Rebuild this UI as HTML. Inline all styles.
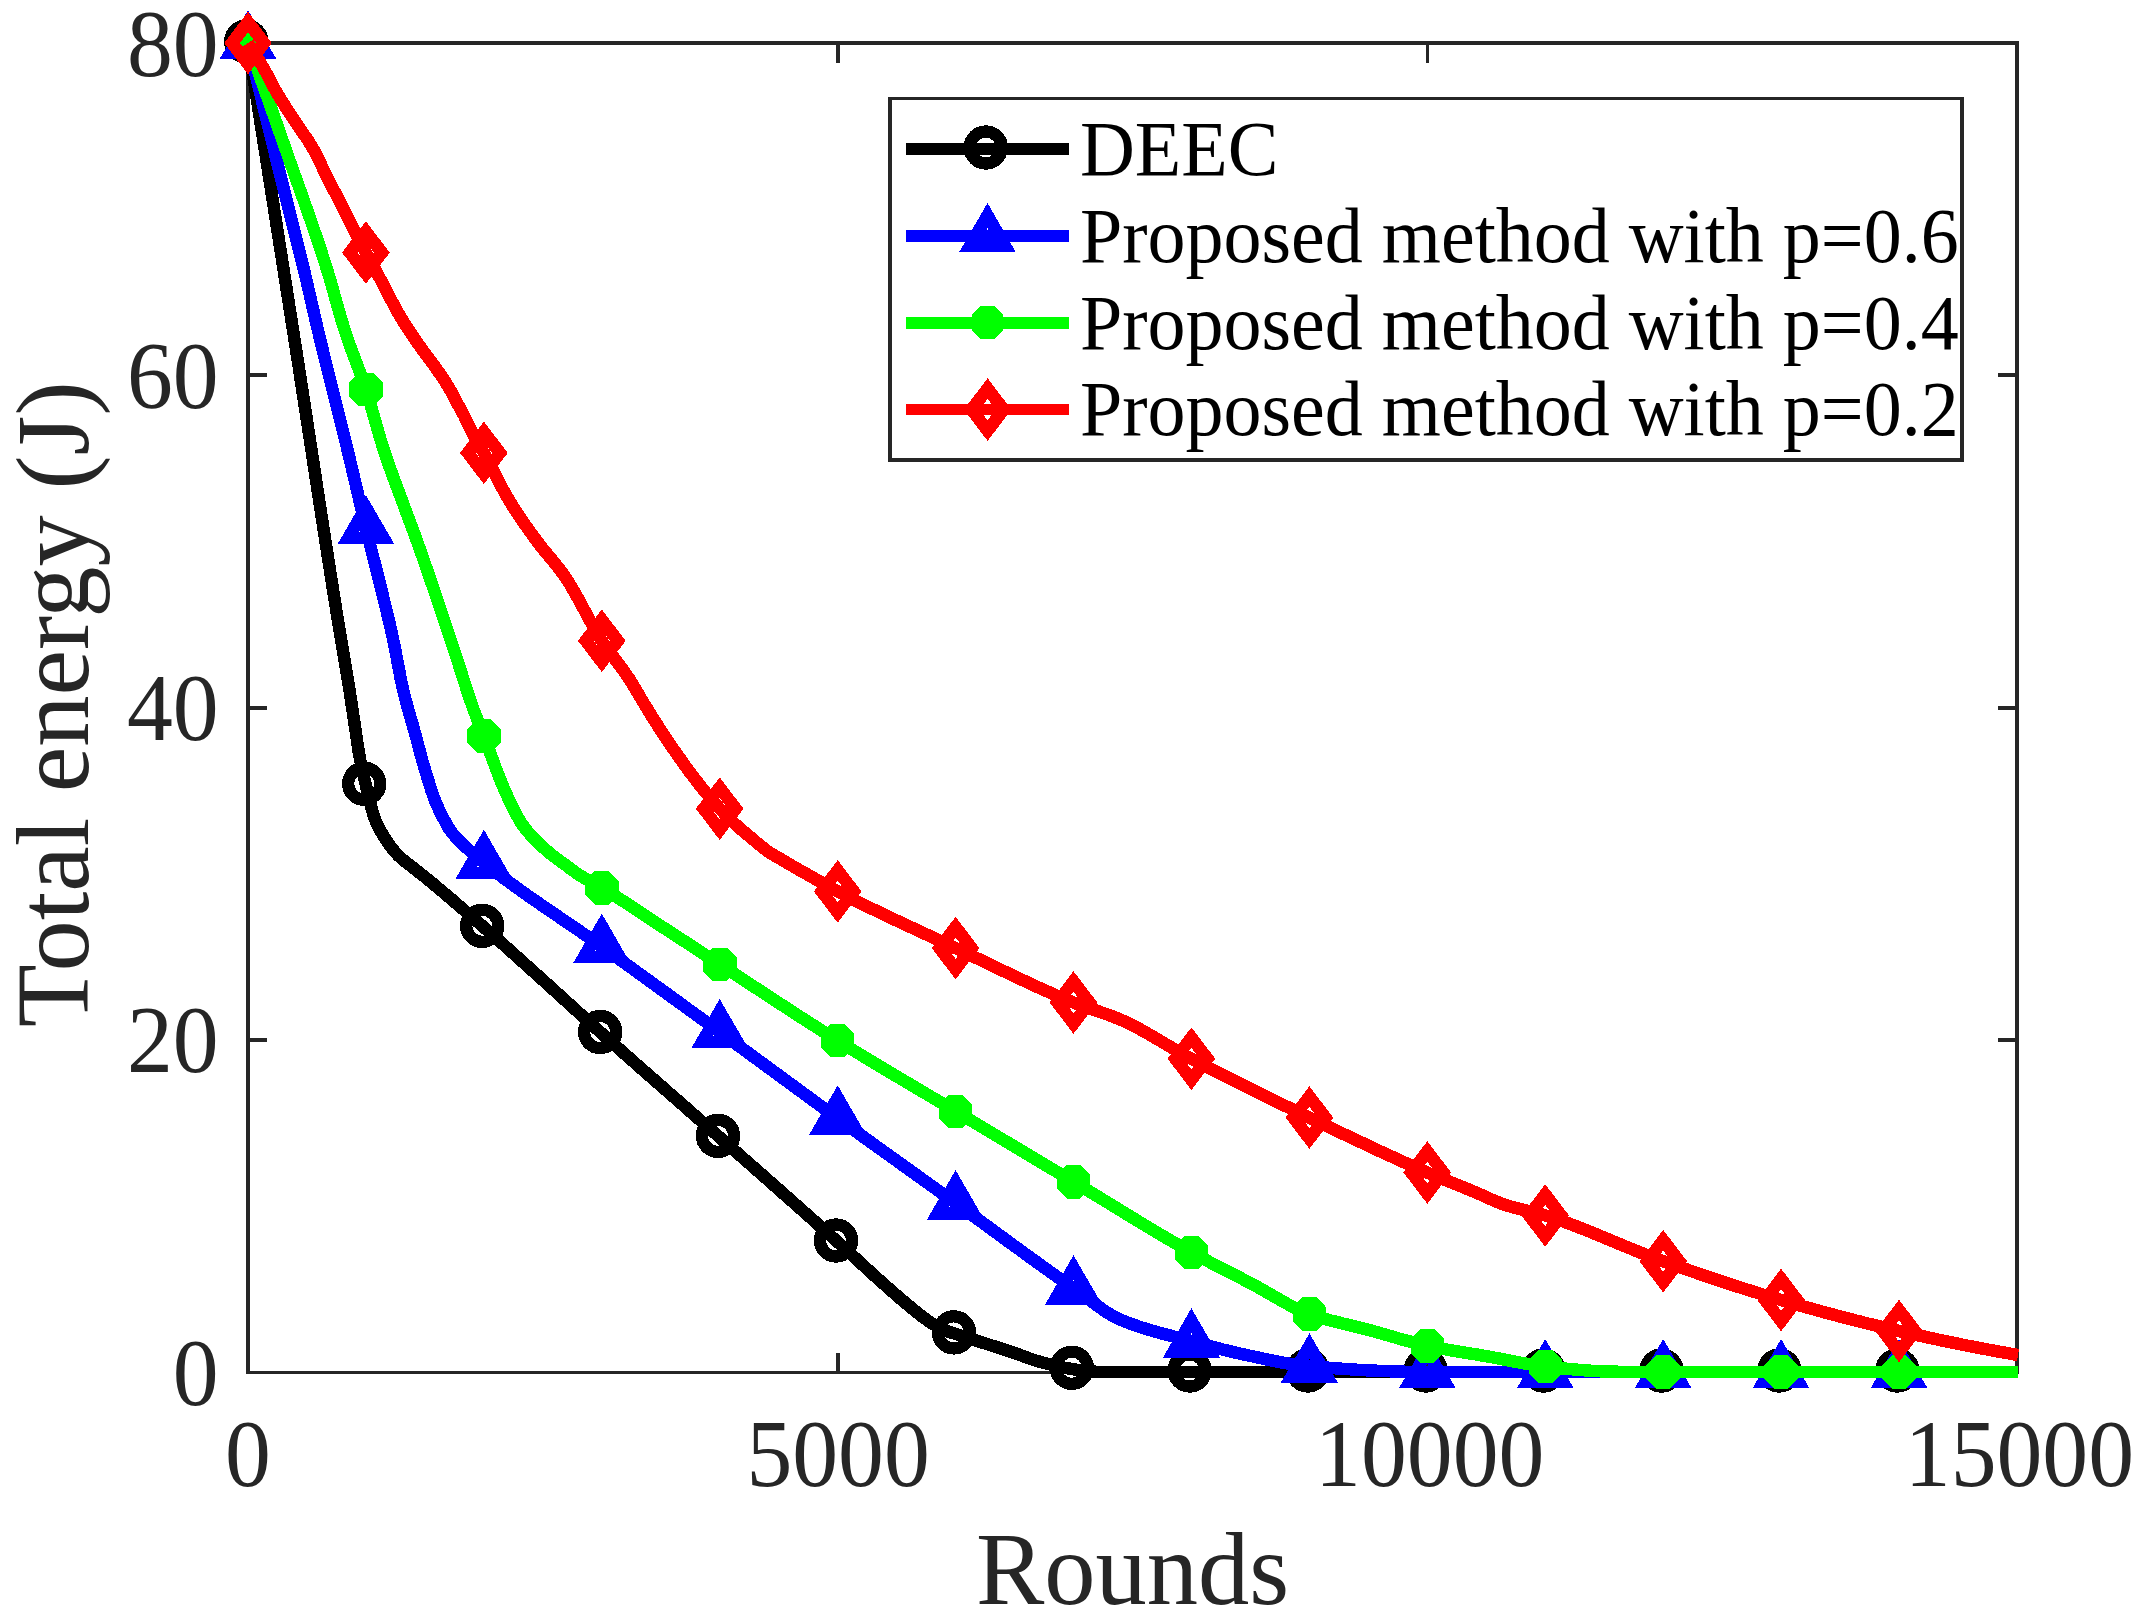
<!DOCTYPE html>
<html><head><meta charset="utf-8"><title>Total energy vs Rounds</title>
<style>
html,body{margin:0;padding:0;background:#fff;}
svg{display:block;}
text{font-family:"Liberation Serif",serif;}
.tk{font-size:91.7px;fill:#262626;}
.lb{font-size:102.5px;fill:#262626;}
.lg{font-size:76px;fill:#000;}
.ln{fill:none;stroke-width:12.5;stroke-linejoin:round;stroke-linecap:butt;}
</style></head><body>
<svg width="2144" height="1621" viewBox="0 0 2144 1621">
<rect width="2144" height="1621" fill="#fff"/>

<g fill="#262626" shape-rendering="crispEdges">
<rect x="246" y="41" width="4" height="1333"/>
<rect x="2015" y="41" width="4" height="1333"/>
<rect x="246" y="41" width="1773" height="4"/>
<rect x="246" y="1371" width="1773" height="3"/>
<rect x="836" y="1353" width="4" height="18"/>
<rect x="836" y="45" width="4" height="18"/>
<rect x="1426" y="1353" width="3" height="18"/>
<rect x="1426" y="45" width="3" height="18"/>
<rect x="250" y="373" width="17" height="4"/>
<rect x="1998" y="373" width="17" height="4"/>
<rect x="250" y="706" width="17" height="4"/>
<rect x="1998" y="706" width="17" height="4"/>
<rect x="250" y="1038" width="17" height="4"/>
<rect x="1998" y="1038" width="17" height="4"/>
</g>
<text class="tk" transform="translate(248.0,1486.3) scale(1,1.03)" text-anchor="middle">0</text>
<text class="tk" transform="translate(838.1,1486.3) scale(1,1.03)" text-anchor="middle">5000</text>
<text class="tk" transform="translate(1429.7,1486.3) scale(1,1.03)" text-anchor="middle">10000</text>
<text class="tk" transform="translate(2019.4,1486.3) scale(1,1.03)" text-anchor="middle">15000</text>
<text class="tk" transform="translate(218.7,1404.6) scale(1,1.03)" text-anchor="end">0</text>
<text class="tk" transform="translate(218.7,1072.3) scale(1,1.03)" text-anchor="end">20</text>
<text class="tk" transform="translate(218.7,740.1) scale(1,1.03)" text-anchor="end">40</text>
<text class="tk" transform="translate(218.7,407.9) scale(1,1.03)" text-anchor="end">60</text>
<text class="tk" transform="translate(218.7,75.6) scale(1,1.03)" text-anchor="end">80</text>
<text class="lb" transform="translate(1132.6,1603.5) scale(1,1.01)" text-anchor="middle">Rounds</text>
<text class="lb" transform="translate(87.8,704.2) rotate(-90) scale(1,1.01)" text-anchor="middle">Total energy (J)</text>
<defs><clipPath id="cp"><rect x="208.0" y="3.0" width="1811.05" height="1409.0"/></clipPath></defs>
<g clip-path="url(#cp)" shape-rendering="crispEdges">
<path class="ln" stroke="#000" d="M248.0,43.0 L251.0,62.0 L254.0,81.1 L257.0,100.1 L260.0,119.2 L263.0,138.3 L266.0,157.4 L269.0,176.5 L272.0,195.6 L275.0,214.8 L278.0,233.9 L281.0,253.1 L284.0,272.3 L287.0,291.5 L290.0,310.7 L293.0,329.9 L296.0,349.2 L299.0,368.5 L302.0,388.1 L305.0,407.6 L308.0,427.3 L311.0,446.9 L314.0,466.6 L317.0,486.3 L320.0,505.8 L323.0,525.4 L326.0,544.8 L329.0,564.1 L332.0,583.2 L335.0,602.1 L338.0,620.9 L341.0,639.4 L344.0,657.2 L347.0,674.7 L350.0,693.2 L353.0,713.3 L356.0,733.6 L359.0,753.7 L362.0,769.4 L365.0,781.4 L368.0,794.1 L371.0,806.2 L374.0,816.9 L377.0,824.2 L380.0,829.9 L383.0,835.1 L386.0,839.9 L389.0,844.3 L392.0,848.3 L395.0,851.9 L398.0,855.2 L401.0,858.1 L404.0,860.7 L407.0,863.0 L410.0,865.2 L413.0,867.6 L416.0,870.0 L419.0,872.3 L422.0,874.7 L425.0,877.1 L428.0,879.6 L431.0,882.0 L434.0,884.5 L437.0,887.0 L440.0,889.6 L443.0,892.1 L446.0,894.6 L449.0,897.2 L452.0,899.7 L455.0,902.3 L458.0,904.9 L461.0,907.4 L464.0,910.0 L467.0,912.6 L470.0,915.2 L473.0,917.8 L476.0,920.4 L479.0,923.0 L482.0,925.7 L485.0,928.3 L488.0,930.9 L491.0,933.6 L494.0,936.2 L497.0,938.9 L500.0,941.6 L503.0,944.2 L506.0,946.9 L509.0,949.6 L512.0,952.3 L515.0,955.0 L518.0,957.7 L521.0,960.4 L524.0,963.1 L527.0,965.8 L530.0,968.5 L533.0,971.2 L536.0,973.9 L539.0,976.6 L542.0,979.3 L545.0,982.0 L548.0,984.7 L551.0,987.4 L554.0,990.2 L557.0,992.9 L560.0,995.6 L563.0,998.4 L566.0,1001.1 L569.0,1003.8 L572.0,1006.5 L575.0,1009.3 L578.0,1012.0 L581.0,1014.7 L584.0,1017.5 L587.0,1020.2 L590.0,1022.9 L593.0,1025.6 L596.0,1028.3 L599.0,1031.0 L602.0,1033.7 L605.0,1036.4 L608.0,1039.0 L611.0,1041.7 L614.0,1044.4 L617.0,1047.1 L620.0,1049.7 L623.0,1052.4 L626.0,1055.0 L629.0,1057.7 L632.0,1060.3 L635.0,1063.0 L638.0,1065.6 L641.0,1068.3 L644.0,1070.9 L647.0,1073.5 L650.0,1076.2 L653.0,1078.8 L656.0,1081.4 L659.0,1084.1 L662.0,1086.7 L665.0,1089.3 L668.0,1092.0 L671.0,1094.6 L674.0,1097.2 L677.0,1099.8 L680.0,1102.5 L683.0,1105.1 L686.0,1107.7 L689.0,1110.4 L692.0,1113.0 L695.0,1115.6 L698.0,1118.3 L701.0,1120.9 L704.0,1123.5 L707.0,1126.2 L710.0,1128.8 L713.0,1131.5 L716.0,1134.1 L719.0,1136.8 L722.0,1139.4 L725.0,1142.1 L728.0,1144.7 L731.0,1147.4 L734.0,1150.0 L737.0,1152.7 L740.0,1155.3 L743.0,1158.0 L746.0,1160.6 L749.0,1163.2 L752.0,1165.9 L755.0,1168.5 L758.0,1171.2 L761.0,1173.8 L764.0,1176.5 L767.0,1179.1 L770.0,1181.8 L773.0,1184.4 L776.0,1187.1 L779.0,1189.7 L782.0,1192.4 L785.0,1195.0 L788.0,1197.7 L791.0,1200.3 L794.0,1203.0 L797.0,1205.7 L800.0,1208.3 L803.0,1211.0 L806.0,1213.7 L809.0,1216.3 L812.0,1219.0 L815.0,1221.7 L818.0,1224.4 L821.0,1227.0 L824.0,1229.7 L827.0,1232.4 L830.0,1235.1 L833.0,1237.8 L836.0,1240.5 L839.0,1243.2 L842.0,1245.9 L845.0,1248.7 L848.0,1251.4 L851.0,1254.2 L854.0,1256.9 L857.0,1259.7 L860.0,1262.5 L863.0,1265.2 L866.0,1268.0 L869.0,1270.7 L872.0,1273.4 L875.0,1276.2 L878.0,1278.9 L881.0,1281.5 L884.0,1284.2 L887.0,1286.9 L890.0,1289.6 L893.0,1292.2 L896.0,1294.8 L899.0,1297.4 L902.0,1300.0 L905.0,1302.5 L908.0,1305.0 L911.0,1307.5 L914.0,1310.0 L917.0,1312.4 L920.0,1314.8 L923.0,1317.1 L926.0,1319.3 L929.0,1321.4 L932.0,1323.4 L935.0,1325.2 L938.0,1327.0 L941.0,1328.6 L944.0,1329.9 L947.0,1331.1 L950.0,1332.1 L953.0,1333.1 L956.0,1334.0 L959.0,1335.1 L962.0,1336.0 L965.0,1337.0 L968.0,1338.0 L971.0,1339.0 L974.0,1339.9 L977.0,1340.9 L980.0,1341.8 L983.0,1342.8 L986.0,1343.7 L989.0,1344.7 L992.0,1345.6 L995.0,1346.6 L998.0,1347.5 L1001.0,1348.5 L1004.0,1349.5 L1007.0,1350.5 L1010.0,1351.5 L1013.0,1352.5 L1016.0,1353.5 L1019.0,1354.6 L1022.0,1355.7 L1025.0,1356.8 L1028.0,1357.9 L1031.0,1359.0 L1034.0,1360.0 L1037.0,1360.9 L1040.0,1361.8 L1043.0,1362.6 L1046.0,1363.4 L1049.0,1364.2 L1052.0,1364.9 L1055.0,1365.6 L1058.0,1366.3 L1061.0,1366.9 L1064.0,1367.6 L1067.0,1368.2 L1070.0,1368.7 L1073.0,1369.2 L1076.0,1369.7 L1079.0,1370.2 L1082.0,1370.7 L1085.0,1371.1 L1088.0,1371.4 L1091.0,1371.5 L1094.0,1371.7 L1097.0,1371.8 L1100.0,1371.9 L1103.0,1371.9 L1106.0,1372.0 L1109.0,1372.0 L1112.0,1372.0 L1115.0,1372.0 L1118.0,1372.0 L1121.0,1372.0 L1124.0,1372.0 L1127.0,1372.0 L1130.0,1372.0 L1133.0,1372.0 L1136.0,1372.0 L1139.0,1372.0 L1142.0,1372.0 L1145.0,1372.0 L1148.0,1372.0 L1151.0,1372.0 L1154.0,1372.0 L1157.0,1372.0 L1160.0,1372.0 L1163.0,1372.0 L1166.0,1372.0 L1169.0,1372.0 L1172.0,1372.0 L1175.0,1372.0 L1178.0,1372.0 L1181.0,1372.0 L1184.0,1372.0 L1187.0,1372.0 L1190.0,1372.0 L1193.0,1372.0 L1196.0,1372.0 L1199.0,1372.0 L1202.0,1372.0 L1205.0,1372.0 L1208.0,1372.0 L1211.0,1372.0 L1214.0,1372.0 L1217.0,1372.0 L1220.0,1372.0 L1223.0,1372.0 L1226.0,1372.0 L1229.0,1372.0 L1232.0,1372.0 L1235.0,1372.0 L1238.0,1372.0 L1241.0,1372.0 L1244.0,1372.0 L1247.0,1372.0 L1250.0,1372.0 L1253.0,1372.0 L1256.0,1372.0 L1259.0,1372.0 L1262.0,1372.0 L1265.0,1372.0 L1268.0,1372.0 L1271.0,1372.0 L1274.0,1372.0 L1277.0,1372.0 L1280.0,1372.0 L1283.0,1372.0 L1286.0,1372.0 L1289.0,1372.0 L1292.0,1372.0 L1295.0,1372.0 L1298.0,1372.0 L1301.0,1372.0 L1304.0,1372.0 L1307.0,1372.0 L1310.0,1372.0 L1313.0,1372.0 L1316.0,1372.0 L1319.0,1372.0 L1322.0,1372.0 L1325.0,1372.0 L1328.0,1372.0 L1331.0,1372.0 L1334.0,1372.0 L1337.0,1372.0 L1340.0,1372.0 L1343.0,1372.0 L1346.0,1372.0 L1349.0,1372.0 L1352.0,1372.0 L1355.0,1372.0 L1358.0,1372.0 L1361.0,1372.0 L1364.0,1372.0 L1367.0,1372.0 L1370.0,1372.0 L1373.0,1372.0 L1376.0,1372.0 L1379.0,1372.0 L1382.0,1372.0 L1385.0,1372.0 L1388.0,1372.0 L1391.0,1372.0 L1394.0,1372.0 L1397.0,1372.0 L1400.0,1372.0 L1403.0,1372.0 L1406.0,1372.0 L1409.0,1372.0 L1412.0,1372.0 L1415.0,1372.0 L1418.0,1372.0 L1421.0,1372.0 L1424.0,1372.0 L1427.0,1372.0 L1430.0,1372.0 L1433.0,1372.0 L1436.0,1372.0 L1439.0,1372.0 L1442.0,1372.0 L1445.0,1372.0 L1448.0,1372.0 L1451.0,1372.0 L1454.0,1372.0 L1457.0,1372.0 L1460.0,1372.0 L1463.0,1372.0 L1466.0,1372.0 L1469.0,1372.0 L1472.0,1372.0 L1475.0,1372.0 L1478.0,1372.0 L1481.0,1372.0 L1484.0,1372.0 L1487.0,1372.0 L1490.0,1372.0 L1493.0,1372.0 L1496.0,1372.0 L1499.0,1372.0 L1502.0,1372.0 L1505.0,1372.0 L1508.0,1372.0 L1511.0,1372.0 L1514.0,1372.0 L1517.0,1372.0 L1520.0,1372.0 L1523.0,1372.0 L1526.0,1372.0 L1529.0,1372.0 L1532.0,1372.0 L1535.0,1372.0 L1538.0,1372.0 L1541.0,1372.0 L1544.0,1372.0 L1547.0,1372.0 L1550.0,1372.0 L1553.0,1372.0 L1556.0,1372.0 L1559.0,1372.0 L1562.0,1372.0 L1565.0,1372.0 L1568.0,1372.0 L1571.0,1372.0 L1574.0,1372.0 L1577.0,1372.0 L1580.0,1372.0 L1583.0,1372.0 L1586.0,1372.0 L1589.0,1372.0 L1592.0,1372.0 L1595.0,1372.0 L1598.0,1372.0 L1601.0,1372.0 L1604.0,1372.0 L1607.0,1372.0 L1610.0,1372.0 L1613.0,1372.0 L1616.0,1372.0 L1619.0,1372.0 L1622.0,1372.0 L1625.0,1372.0 L1628.0,1372.0 L1631.0,1372.0 L1634.0,1372.0 L1637.0,1372.0 L1640.0,1372.0 L1643.0,1372.0 L1646.0,1372.0 L1649.0,1372.0 L1652.0,1372.0 L1655.0,1372.0 L1658.0,1372.0 L1661.0,1372.0 L1664.0,1372.0 L1667.0,1372.0 L1670.0,1372.0 L1673.0,1372.0 L1676.0,1372.0 L1679.0,1372.0 L1682.0,1372.0 L1685.0,1372.0 L1688.0,1372.0 L1691.0,1372.0 L1694.0,1372.0 L1697.0,1372.0 L1700.0,1372.0 L1703.0,1372.0 L1706.0,1372.0 L1709.0,1372.0 L1712.0,1372.0 L1715.0,1372.0 L1718.0,1372.0 L1721.0,1372.0 L1724.0,1372.0 L1727.0,1372.0 L1730.0,1372.0 L1733.0,1372.0 L1736.0,1372.0 L1739.0,1372.0 L1742.0,1372.0 L1745.0,1372.0 L1748.0,1372.0 L1751.0,1372.0 L1754.0,1372.0 L1757.0,1372.0 L1760.0,1372.0 L1763.0,1372.0 L1766.0,1372.0 L1769.0,1372.0 L1772.0,1372.0 L1775.0,1372.0 L1778.0,1372.0 L1781.0,1372.0 L1784.0,1372.0 L1787.0,1372.0 L1790.0,1372.0 L1793.0,1372.0 L1796.0,1372.0 L1799.0,1372.0 L1802.0,1372.0 L1805.0,1372.0 L1808.0,1372.0 L1811.0,1372.0 L1814.0,1372.0 L1817.0,1372.0 L1820.0,1372.0 L1823.0,1372.0 L1826.0,1372.0 L1829.0,1372.0 L1832.0,1372.0 L1835.0,1372.0 L1838.0,1372.0 L1841.0,1372.0 L1844.0,1372.0 L1847.0,1372.0 L1850.0,1372.0 L1853.0,1372.0 L1856.0,1372.0 L1859.0,1372.0 L1862.0,1372.0 L1865.0,1372.0 L1868.0,1372.0 L1871.0,1372.0 L1874.0,1372.0 L1877.0,1372.0 L1880.0,1372.0 L1883.0,1372.0 L1886.0,1372.0 L1889.0,1372.0 L1892.0,1372.0 L1895.0,1372.0 L1898.0,1372.0 L1901.0,1372.0 L1904.0,1372.0 L1907.0,1372.0 L1910.0,1372.0 L1913.0,1372.0 L1916.0,1372.0 L1919.0,1372.0 L1922.0,1372.0 L1925.0,1372.0 L1928.0,1372.0 L1931.0,1372.0 L1934.0,1372.0 L1937.0,1372.0 L1940.0,1372.0 L1943.0,1372.0 L1946.0,1372.0 L1949.0,1372.0 L1952.0,1372.0 L1955.0,1372.0 L1958.0,1372.0 L1961.0,1372.0 L1964.0,1372.0 L1967.0,1372.0 L1970.0,1372.0 L1973.0,1372.0 L1976.0,1372.0 L1979.0,1372.0 L1982.0,1372.0 L1985.0,1372.0 L1988.0,1372.0 L1991.0,1372.0 L1994.0,1372.0 L1997.0,1372.0 L2000.0,1372.0 L2003.0,1372.0 L2006.0,1372.0 L2009.0,1372.0 L2012.0,1372.0 L2015.0,1372.0 L2018.0,1372.0"/>
<circle cx="246.3" cy="41.5" r="16.1" fill="none" stroke="#000" stroke-width="12.2"/>
<circle cx="364.2" cy="783.7" r="16.1" fill="none" stroke="#000" stroke-width="12.2"/>
<circle cx="482.2" cy="925.8" r="16.1" fill="none" stroke="#000" stroke-width="12.2"/>
<circle cx="600.1" cy="1032.0" r="16.1" fill="none" stroke="#000" stroke-width="12.2"/>
<circle cx="718.0" cy="1135.9" r="16.1" fill="none" stroke="#000" stroke-width="12.2"/>
<circle cx="836.0" cy="1240.5" r="16.1" fill="none" stroke="#000" stroke-width="12.2"/>
<circle cx="953.9" cy="1332.4" r="16.1" fill="none" stroke="#000" stroke-width="12.2"/>
<circle cx="1071.8" cy="1367.8" r="16.1" fill="none" stroke="#000" stroke-width="12.2"/>
<circle cx="1189.7" cy="1370.5" r="16.1" fill="none" stroke="#000" stroke-width="12.2"/>
<circle cx="1307.7" cy="1370.5" r="16.1" fill="none" stroke="#000" stroke-width="12.2"/>
<circle cx="1425.6" cy="1370.5" r="16.1" fill="none" stroke="#000" stroke-width="12.2"/>
<circle cx="1543.5" cy="1370.5" r="16.1" fill="none" stroke="#000" stroke-width="12.2"/>
<circle cx="1661.5" cy="1370.5" r="16.1" fill="none" stroke="#000" stroke-width="12.2"/>
<circle cx="1779.4" cy="1370.5" r="16.1" fill="none" stroke="#000" stroke-width="12.2"/>
<circle cx="1897.3" cy="1370.5" r="16.1" fill="none" stroke="#000" stroke-width="12.2"/>
<path class="ln" stroke="#00f" d="M248.0,43.0 L251.0,55.4 L254.0,67.8 L257.0,80.2 L260.0,92.5 L263.0,104.8 L266.0,117.0 L269.0,129.3 L272.0,141.5 L275.0,153.7 L278.0,165.8 L281.0,177.9 L284.0,189.9 L287.0,202.0 L290.0,214.0 L293.0,225.9 L296.0,237.7 L299.0,249.7 L302.0,261.8 L305.0,274.2 L308.0,287.1 L311.0,300.2 L314.0,313.4 L317.0,326.3 L320.0,338.9 L323.0,351.2 L326.0,363.4 L329.0,375.5 L332.0,387.6 L335.0,399.6 L338.0,411.6 L341.0,423.5 L344.0,435.4 L347.0,447.6 L350.0,460.2 L353.0,472.9 L356.0,485.7 L359.0,498.6 L362.0,511.4 L365.0,524.1 L368.0,536.4 L371.0,548.4 L374.0,560.2 L377.0,572.0 L380.0,584.0 L383.0,596.2 L386.0,608.5 L389.0,621.0 L392.0,634.1 L395.0,648.4 L398.0,664.4 L401.0,680.2 L404.0,693.5 L407.0,705.1 L410.0,715.6 L413.0,725.9 L416.0,736.6 L419.0,748.3 L422.0,759.5 L425.0,769.6 L428.0,779.6 L431.0,789.2 L434.0,798.1 L437.0,805.3 L440.0,811.6 L443.0,817.6 L446.0,823.2 L449.0,828.5 L452.0,832.7 L455.0,836.2 L458.0,839.5 L461.0,842.5 L464.0,845.4 L467.0,848.2 L470.0,850.9 L473.0,853.6 L476.0,856.2 L479.0,858.7 L482.0,861.2 L485.0,863.6 L488.0,866.0 L491.0,868.4 L494.0,870.7 L497.0,873.0 L500.0,875.3 L503.0,877.6 L506.0,879.8 L509.0,882.0 L512.0,884.2 L515.0,886.4 L518.0,888.6 L521.0,890.7 L524.0,892.8 L527.0,895.0 L530.0,897.1 L533.0,899.1 L536.0,901.2 L539.0,903.3 L542.0,905.4 L545.0,907.4 L548.0,909.5 L551.0,911.5 L554.0,913.6 L557.0,915.6 L560.0,917.7 L563.0,919.7 L566.0,921.7 L569.0,923.8 L572.0,925.8 L575.0,927.9 L578.0,929.9 L581.0,932.0 L584.0,934.1 L587.0,936.2 L590.0,938.3 L593.0,940.4 L596.0,942.5 L599.0,944.6 L602.0,946.8 L605.0,948.9 L608.0,951.1 L611.0,953.2 L614.0,955.4 L617.0,957.5 L620.0,959.7 L623.0,961.9 L626.0,964.0 L629.0,966.2 L632.0,968.3 L635.0,970.5 L638.0,972.7 L641.0,974.8 L644.0,977.0 L647.0,979.2 L650.0,981.4 L653.0,983.5 L656.0,985.7 L659.0,987.9 L662.0,990.1 L665.0,992.2 L668.0,994.4 L671.0,996.6 L674.0,998.8 L677.0,1000.9 L680.0,1003.1 L683.0,1005.3 L686.0,1007.5 L689.0,1009.7 L692.0,1011.8 L695.0,1014.0 L698.0,1016.2 L701.0,1018.4 L704.0,1020.6 L707.0,1022.7 L710.0,1024.9 L713.0,1027.1 L716.0,1029.3 L719.0,1031.5 L722.0,1033.7 L725.0,1035.8 L728.0,1038.0 L731.0,1040.2 L734.0,1042.4 L737.0,1044.6 L740.0,1046.8 L743.0,1049.0 L746.0,1051.2 L749.0,1053.4 L752.0,1055.6 L755.0,1057.8 L758.0,1060.0 L761.0,1062.2 L764.0,1064.4 L767.0,1066.6 L770.0,1068.8 L773.0,1071.0 L776.0,1073.2 L779.0,1075.4 L782.0,1077.6 L785.0,1079.8 L788.0,1082.0 L791.0,1084.2 L794.0,1086.4 L797.0,1088.6 L800.0,1090.8 L803.0,1093.0 L806.0,1095.2 L809.0,1097.4 L812.0,1099.6 L815.0,1101.8 L818.0,1104.0 L821.0,1106.2 L824.0,1108.4 L827.0,1110.6 L830.0,1112.7 L833.0,1114.9 L836.0,1117.1 L839.0,1119.3 L842.0,1121.5 L845.0,1123.6 L848.0,1125.8 L851.0,1128.0 L854.0,1130.1 L857.0,1132.3 L860.0,1134.5 L863.0,1136.6 L866.0,1138.8 L869.0,1140.9 L872.0,1143.1 L875.0,1145.3 L878.0,1147.4 L881.0,1149.6 L884.0,1151.7 L887.0,1153.9 L890.0,1156.0 L893.0,1158.2 L896.0,1160.3 L899.0,1162.5 L902.0,1164.6 L905.0,1166.8 L908.0,1168.9 L911.0,1171.1 L914.0,1173.2 L917.0,1175.4 L920.0,1177.5 L923.0,1179.7 L926.0,1181.8 L929.0,1184.0 L932.0,1186.1 L935.0,1188.3 L938.0,1190.5 L941.0,1192.6 L944.0,1194.8 L947.0,1196.9 L950.0,1199.1 L953.0,1201.2 L956.0,1203.4 L959.0,1205.6 L962.0,1207.7 L965.0,1209.9 L968.0,1212.1 L971.0,1214.3 L974.0,1216.5 L977.0,1218.6 L980.0,1220.8 L983.0,1223.0 L986.0,1225.2 L989.0,1227.4 L992.0,1229.6 L995.0,1231.8 L998.0,1234.0 L1001.0,1236.2 L1004.0,1238.4 L1007.0,1240.6 L1010.0,1242.8 L1013.0,1245.0 L1016.0,1247.2 L1019.0,1249.3 L1022.0,1251.5 L1025.0,1253.7 L1028.0,1255.9 L1031.0,1258.1 L1034.0,1260.2 L1037.0,1262.4 L1040.0,1264.6 L1043.0,1266.7 L1046.0,1268.9 L1049.0,1271.0 L1052.0,1273.1 L1055.0,1275.3 L1058.0,1277.4 L1061.0,1279.5 L1064.0,1281.6 L1067.0,1283.7 L1070.0,1285.8 L1073.0,1287.8 L1076.0,1289.9 L1079.0,1292.1 L1082.0,1294.3 L1085.0,1296.5 L1088.0,1298.8 L1091.0,1301.0 L1094.0,1303.2 L1097.0,1305.4 L1100.0,1307.6 L1103.0,1309.7 L1106.0,1311.7 L1109.0,1313.6 L1112.0,1315.4 L1115.0,1317.0 L1118.0,1318.5 L1121.0,1319.9 L1124.0,1321.1 L1127.0,1322.3 L1130.0,1323.5 L1133.0,1324.6 L1136.0,1325.6 L1139.0,1326.7 L1142.0,1327.6 L1145.0,1328.6 L1148.0,1329.5 L1151.0,1330.4 L1154.0,1331.3 L1157.0,1332.1 L1160.0,1332.9 L1163.0,1333.7 L1166.0,1334.5 L1169.0,1335.3 L1172.0,1336.1 L1175.0,1336.9 L1178.0,1337.6 L1181.0,1338.4 L1184.0,1339.2 L1187.0,1340.0 L1190.0,1340.8 L1193.0,1341.6 L1196.0,1342.4 L1199.0,1343.3 L1202.0,1344.1 L1205.0,1344.9 L1208.0,1345.7 L1211.0,1346.5 L1214.0,1347.3 L1217.0,1348.1 L1220.0,1348.8 L1223.0,1349.6 L1226.0,1350.3 L1229.0,1351.1 L1232.0,1351.8 L1235.0,1352.5 L1238.0,1353.2 L1241.0,1353.9 L1244.0,1354.5 L1247.0,1355.2 L1250.0,1355.8 L1253.0,1356.4 L1256.0,1357.1 L1259.0,1357.7 L1262.0,1358.4 L1265.0,1359.0 L1268.0,1359.7 L1271.0,1360.3 L1274.0,1360.9 L1277.0,1361.5 L1280.0,1362.1 L1283.0,1362.7 L1286.0,1363.2 L1289.0,1363.7 L1292.0,1364.2 L1295.0,1364.6 L1298.0,1365.1 L1301.0,1365.4 L1304.0,1365.8 L1307.0,1366.1 L1310.0,1366.4 L1313.0,1366.6 L1316.0,1366.8 L1319.0,1367.1 L1322.0,1367.3 L1325.0,1367.5 L1328.0,1367.7 L1331.0,1368.0 L1334.0,1368.2 L1337.0,1368.4 L1340.0,1368.6 L1343.0,1368.8 L1346.0,1369.0 L1349.0,1369.2 L1352.0,1369.4 L1355.0,1369.6 L1358.0,1369.8 L1361.0,1369.9 L1364.0,1370.1 L1367.0,1370.3 L1370.0,1370.4 L1373.0,1370.6 L1376.0,1370.7 L1379.0,1370.9 L1382.0,1371.0 L1385.0,1371.1 L1388.0,1371.2 L1391.0,1371.3 L1394.0,1371.4 L1397.0,1371.5 L1400.0,1371.6 L1403.0,1371.7 L1406.0,1371.8 L1409.0,1371.8 L1412.0,1371.9 L1415.0,1371.9 L1418.0,1372.0 L1421.0,1372.0 L1424.0,1372.0 L1427.0,1372.0 L1430.0,1372.0 L1433.0,1372.0 L1436.0,1372.0 L1439.0,1372.0 L1442.0,1372.0 L1445.0,1372.0 L1448.0,1372.0 L1451.0,1372.0 L1454.0,1372.0 L1457.0,1372.0 L1460.0,1372.0 L1463.0,1372.0 L1466.0,1372.0 L1469.0,1372.0 L1472.0,1372.0 L1475.0,1372.0 L1478.0,1372.0 L1481.0,1372.0 L1484.0,1372.0 L1487.0,1372.0 L1490.0,1372.0 L1493.0,1372.0 L1496.0,1372.0 L1499.0,1372.0 L1502.0,1372.0 L1505.0,1372.0 L1508.0,1372.0 L1511.0,1372.0 L1514.0,1372.0 L1517.0,1372.0 L1520.0,1372.0 L1523.0,1372.0 L1526.0,1372.0 L1529.0,1372.0 L1532.0,1372.0 L1535.0,1372.0 L1538.0,1372.0 L1541.0,1372.0 L1544.0,1372.0 L1547.0,1372.0 L1550.0,1372.0 L1553.0,1372.0 L1556.0,1372.0 L1559.0,1372.0 L1562.0,1372.0 L1565.0,1372.0 L1568.0,1372.0 L1571.0,1372.0 L1574.0,1372.0 L1577.0,1372.0 L1580.0,1372.0 L1583.0,1372.0 L1586.0,1372.0 L1589.0,1372.0 L1592.0,1372.0 L1595.0,1372.0 L1598.0,1372.0 L1601.0,1372.0 L1604.0,1372.0 L1607.0,1372.0 L1610.0,1372.0 L1613.0,1372.0 L1616.0,1372.0 L1619.0,1372.0 L1622.0,1372.0 L1625.0,1372.0 L1628.0,1372.0 L1631.0,1372.0 L1634.0,1372.0 L1637.0,1372.0 L1640.0,1372.0 L1643.0,1372.0 L1646.0,1372.0 L1649.0,1372.0 L1652.0,1372.0 L1655.0,1372.0 L1658.0,1372.0 L1661.0,1372.0 L1664.0,1372.0 L1667.0,1372.0 L1670.0,1372.0 L1673.0,1372.0 L1676.0,1372.0 L1679.0,1372.0 L1682.0,1372.0 L1685.0,1372.0 L1688.0,1372.0 L1691.0,1372.0 L1694.0,1372.0 L1697.0,1372.0 L1700.0,1372.0 L1703.0,1372.0 L1706.0,1372.0 L1709.0,1372.0 L1712.0,1372.0 L1715.0,1372.0 L1718.0,1372.0 L1721.0,1372.0 L1724.0,1372.0 L1727.0,1372.0 L1730.0,1372.0 L1733.0,1372.0 L1736.0,1372.0 L1739.0,1372.0 L1742.0,1372.0 L1745.0,1372.0 L1748.0,1372.0 L1751.0,1372.0 L1754.0,1372.0 L1757.0,1372.0 L1760.0,1372.0 L1763.0,1372.0 L1766.0,1372.0 L1769.0,1372.0 L1772.0,1372.0 L1775.0,1372.0 L1778.0,1372.0 L1781.0,1372.0 L1784.0,1372.0 L1787.0,1372.0 L1790.0,1372.0 L1793.0,1372.0 L1796.0,1372.0 L1799.0,1372.0 L1802.0,1372.0 L1805.0,1372.0 L1808.0,1372.0 L1811.0,1372.0 L1814.0,1372.0 L1817.0,1372.0 L1820.0,1372.0 L1823.0,1372.0 L1826.0,1372.0 L1829.0,1372.0 L1832.0,1372.0 L1835.0,1372.0 L1838.0,1372.0 L1841.0,1372.0 L1844.0,1372.0 L1847.0,1372.0 L1850.0,1372.0 L1853.0,1372.0 L1856.0,1372.0 L1859.0,1372.0 L1862.0,1372.0 L1865.0,1372.0 L1868.0,1372.0 L1871.0,1372.0 L1874.0,1372.0 L1877.0,1372.0 L1880.0,1372.0 L1883.0,1372.0 L1886.0,1372.0 L1889.0,1372.0 L1892.0,1372.0 L1895.0,1372.0 L1898.0,1372.0 L1901.0,1372.0 L1904.0,1372.0 L1907.0,1372.0 L1910.0,1372.0 L1913.0,1372.0 L1916.0,1372.0 L1919.0,1372.0 L1922.0,1372.0 L1925.0,1372.0 L1928.0,1372.0 L1931.0,1372.0 L1934.0,1372.0 L1937.0,1372.0 L1940.0,1372.0 L1943.0,1372.0 L1946.0,1372.0 L1949.0,1372.0 L1952.0,1372.0 L1955.0,1372.0 L1958.0,1372.0 L1961.0,1372.0 L1964.0,1372.0 L1967.0,1372.0 L1970.0,1372.0 L1973.0,1372.0 L1976.0,1372.0 L1979.0,1372.0 L1982.0,1372.0 L1985.0,1372.0 L1988.0,1372.0 L1991.0,1372.0 L1994.0,1372.0 L1997.0,1372.0 L2000.0,1372.0 L2003.0,1372.0 L2006.0,1372.0 L2009.0,1372.0 L2012.0,1372.0 L2015.0,1372.0 L2018.0,1372.0"/>
<path d="M248.0,22.5 L265.8,53.2 L230.2,53.2 Z" fill="none" stroke="#00f" stroke-width="12.5" stroke-linejoin="miter" stroke-miterlimit="10"/>
<path d="M365.9,507.5 L383.7,538.2 L348.2,538.2 Z" fill="none" stroke="#00f" stroke-width="12.5" stroke-linejoin="miter" stroke-miterlimit="10"/>
<path d="M483.9,842.2 L501.6,872.9 L466.1,872.9 Z" fill="none" stroke="#00f" stroke-width="12.5" stroke-linejoin="miter" stroke-miterlimit="10"/>
<path d="M601.8,926.1 L619.5,956.8 L584.0,956.8 Z" fill="none" stroke="#00f" stroke-width="12.5" stroke-linejoin="miter" stroke-miterlimit="10"/>
<path d="M719.7,1011.5 L737.5,1042.2 L702.0,1042.2 Z" fill="none" stroke="#00f" stroke-width="12.5" stroke-linejoin="miter" stroke-miterlimit="10"/>
<path d="M837.7,1097.8 L855.4,1128.5 L819.9,1128.5 Z" fill="none" stroke="#00f" stroke-width="12.5" stroke-linejoin="miter" stroke-miterlimit="10"/>
<path d="M955.6,1182.6 L973.3,1213.3 L937.8,1213.3 Z" fill="none" stroke="#00f" stroke-width="12.5" stroke-linejoin="miter" stroke-miterlimit="10"/>
<path d="M1073.5,1267.7 L1091.3,1298.4 L1055.8,1298.4 Z" fill="none" stroke="#00f" stroke-width="12.5" stroke-linejoin="miter" stroke-miterlimit="10"/>
<path d="M1191.4,1320.7 L1209.2,1351.4 L1173.7,1351.4 Z" fill="none" stroke="#00f" stroke-width="12.5" stroke-linejoin="miter" stroke-miterlimit="10"/>
<path d="M1309.4,1345.8 L1327.1,1376.5 L1291.6,1376.5 Z" fill="none" stroke="#00f" stroke-width="12.5" stroke-linejoin="miter" stroke-miterlimit="10"/>
<path d="M1427.3,1351.5 L1445.1,1382.2 L1409.6,1382.2 Z" fill="none" stroke="#00f" stroke-width="12.5" stroke-linejoin="miter" stroke-miterlimit="10"/>
<path d="M1545.2,1351.5 L1563.0,1382.2 L1527.5,1382.2 Z" fill="none" stroke="#00f" stroke-width="12.5" stroke-linejoin="miter" stroke-miterlimit="10"/>
<path d="M1663.2,1351.5 L1680.9,1382.2 L1645.4,1382.2 Z" fill="none" stroke="#00f" stroke-width="12.5" stroke-linejoin="miter" stroke-miterlimit="10"/>
<path d="M1781.1,1351.5 L1798.8,1382.2 L1763.3,1382.2 Z" fill="none" stroke="#00f" stroke-width="12.5" stroke-linejoin="miter" stroke-miterlimit="10"/>
<path d="M1899.0,1351.5 L1916.8,1382.2 L1881.3,1382.2 Z" fill="none" stroke="#00f" stroke-width="12.5" stroke-linejoin="miter" stroke-miterlimit="10"/>
<path class="ln" stroke="#0f0" d="M248.0,43.0 L251.0,51.4 L254.0,59.7 L257.0,68.1 L260.0,76.6 L263.0,85.0 L266.0,93.4 L269.0,101.9 L272.0,110.4 L275.0,118.9 L278.0,127.4 L281.0,136.0 L284.0,144.6 L287.0,153.1 L290.0,161.7 L293.0,170.1 L296.0,178.6 L299.0,187.0 L302.0,195.4 L305.0,203.9 L308.0,212.4 L311.0,221.1 L314.0,229.8 L317.0,238.6 L320.0,247.6 L323.0,256.8 L326.0,266.2 L329.0,275.9 L332.0,286.3 L335.0,297.0 L338.0,307.8 L341.0,318.3 L344.0,328.1 L347.0,337.2 L350.0,345.7 L353.0,353.8 L356.0,361.8 L359.0,369.8 L362.0,378.1 L365.0,386.8 L368.0,396.2 L371.0,406.3 L374.0,416.8 L377.0,427.4 L380.0,437.8 L383.0,447.5 L386.0,456.6 L389.0,465.3 L392.0,473.6 L395.0,481.8 L398.0,489.9 L401.0,497.9 L404.0,505.9 L407.0,514.1 L410.0,522.1 L413.0,530.1 L416.0,538.3 L419.0,546.7 L422.0,555.2 L425.0,563.8 L428.0,572.5 L431.0,581.3 L434.0,590.1 L437.0,598.9 L440.0,607.8 L443.0,616.8 L446.0,625.8 L449.0,634.8 L452.0,643.8 L455.0,652.8 L458.0,662.1 L461.0,671.5 L464.0,681.0 L467.0,690.3 L470.0,699.4 L473.0,708.0 L476.0,716.0 L479.0,723.6 L482.0,731.1 L485.0,738.9 L488.0,747.0 L491.0,755.2 L494.0,763.3 L497.0,771.3 L500.0,779.0 L503.0,786.2 L506.0,793.1 L509.0,799.8 L512.0,806.1 L515.0,812.0 L518.0,817.5 L521.0,822.6 L524.0,826.9 L527.0,830.7 L530.0,834.2 L533.0,837.5 L536.0,840.6 L539.0,843.6 L542.0,846.4 L545.0,849.1 L548.0,851.7 L551.0,854.2 L554.0,856.5 L557.0,858.8 L560.0,861.0 L563.0,863.1 L566.0,865.3 L569.0,867.6 L572.0,869.8 L575.0,872.0 L578.0,874.1 L581.0,876.0 L584.0,877.8 L587.0,879.5 L590.0,881.1 L593.0,882.8 L596.0,884.4 L599.0,886.1 L602.0,887.8 L605.0,889.6 L608.0,891.5 L611.0,893.3 L614.0,895.2 L617.0,897.1 L620.0,899.1 L623.0,901.0 L626.0,903.0 L629.0,904.9 L632.0,906.9 L635.0,908.9 L638.0,910.9 L641.0,912.9 L644.0,914.9 L647.0,916.9 L650.0,918.8 L653.0,920.8 L656.0,922.8 L659.0,924.7 L662.0,926.7 L665.0,928.6 L668.0,930.6 L671.0,932.6 L674.0,934.5 L677.0,936.5 L680.0,938.4 L683.0,940.4 L686.0,942.3 L689.0,944.3 L692.0,946.2 L695.0,948.2 L698.0,950.2 L701.0,952.1 L704.0,954.1 L707.0,956.0 L710.0,958.0 L713.0,959.9 L716.0,961.9 L719.0,963.8 L722.0,965.8 L725.0,967.7 L728.0,969.7 L731.0,971.6 L734.0,973.6 L737.0,975.6 L740.0,977.5 L743.0,979.5 L746.0,981.5 L749.0,983.4 L752.0,985.4 L755.0,987.4 L758.0,989.3 L761.0,991.3 L764.0,993.2 L767.0,995.2 L770.0,997.2 L773.0,999.1 L776.0,1001.1 L779.0,1003.1 L782.0,1005.0 L785.0,1007.0 L788.0,1008.9 L791.0,1010.9 L794.0,1012.8 L797.0,1014.8 L800.0,1016.7 L803.0,1018.6 L806.0,1020.6 L809.0,1022.5 L812.0,1024.4 L815.0,1026.3 L818.0,1028.2 L821.0,1030.1 L824.0,1032.0 L827.0,1033.9 L830.0,1035.8 L833.0,1037.7 L836.0,1039.6 L839.0,1041.4 L842.0,1043.3 L845.0,1045.2 L848.0,1047.0 L851.0,1048.8 L854.0,1050.7 L857.0,1052.5 L860.0,1054.3 L863.0,1056.2 L866.0,1058.0 L869.0,1059.8 L872.0,1061.6 L875.0,1063.4 L878.0,1065.2 L881.0,1067.0 L884.0,1068.8 L887.0,1070.6 L890.0,1072.4 L893.0,1074.2 L896.0,1075.9 L899.0,1077.7 L902.0,1079.5 L905.0,1081.3 L908.0,1083.1 L911.0,1084.8 L914.0,1086.6 L917.0,1088.4 L920.0,1090.2 L923.0,1091.9 L926.0,1093.7 L929.0,1095.5 L932.0,1097.3 L935.0,1099.0 L938.0,1100.8 L941.0,1102.6 L944.0,1104.4 L947.0,1106.2 L950.0,1108.0 L953.0,1109.8 L956.0,1111.6 L959.0,1113.3 L962.0,1115.1 L965.0,1116.9 L968.0,1118.7 L971.0,1120.5 L974.0,1122.3 L977.0,1124.1 L980.0,1125.9 L983.0,1127.7 L986.0,1129.5 L989.0,1131.3 L992.0,1133.1 L995.0,1134.9 L998.0,1136.7 L1001.0,1138.5 L1004.0,1140.3 L1007.0,1142.1 L1010.0,1143.8 L1013.0,1145.6 L1016.0,1147.4 L1019.0,1149.2 L1022.0,1151.0 L1025.0,1152.8 L1028.0,1154.6 L1031.0,1156.4 L1034.0,1158.2 L1037.0,1160.0 L1040.0,1161.8 L1043.0,1163.6 L1046.0,1165.4 L1049.0,1167.2 L1052.0,1168.9 L1055.0,1170.7 L1058.0,1172.5 L1061.0,1174.3 L1064.0,1176.1 L1067.0,1177.9 L1070.0,1179.7 L1073.0,1181.5 L1076.0,1183.3 L1079.0,1185.1 L1082.0,1186.9 L1085.0,1188.7 L1088.0,1190.5 L1091.0,1192.4 L1094.0,1194.2 L1097.0,1196.0 L1100.0,1197.8 L1103.0,1199.7 L1106.0,1201.5 L1109.0,1203.3 L1112.0,1205.2 L1115.0,1207.0 L1118.0,1208.9 L1121.0,1210.7 L1124.0,1212.5 L1127.0,1214.4 L1130.0,1216.2 L1133.0,1218.0 L1136.0,1219.8 L1139.0,1221.7 L1142.0,1223.5 L1145.0,1225.3 L1148.0,1227.1 L1151.0,1228.9 L1154.0,1230.7 L1157.0,1232.5 L1160.0,1234.3 L1163.0,1236.0 L1166.0,1237.8 L1169.0,1239.5 L1172.0,1241.3 L1175.0,1243.0 L1178.0,1244.7 L1181.0,1246.4 L1184.0,1248.1 L1187.0,1249.8 L1190.0,1251.5 L1193.0,1253.2 L1196.0,1254.8 L1199.0,1256.4 L1202.0,1258.0 L1205.0,1259.6 L1208.0,1261.2 L1211.0,1262.8 L1214.0,1264.3 L1217.0,1265.9 L1220.0,1267.4 L1223.0,1269.0 L1226.0,1270.5 L1229.0,1272.1 L1232.0,1273.6 L1235.0,1275.1 L1238.0,1276.7 L1241.0,1278.2 L1244.0,1279.8 L1247.0,1281.3 L1250.0,1282.9 L1253.0,1284.5 L1256.0,1286.1 L1259.0,1287.8 L1262.0,1289.5 L1265.0,1291.2 L1268.0,1292.9 L1271.0,1294.7 L1274.0,1296.4 L1277.0,1298.1 L1280.0,1299.8 L1283.0,1301.5 L1286.0,1303.2 L1289.0,1304.8 L1292.0,1306.3 L1295.0,1307.8 L1298.0,1309.3 L1301.0,1310.6 L1304.0,1311.9 L1307.0,1313.1 L1310.0,1314.2 L1313.0,1315.3 L1316.0,1316.2 L1319.0,1317.2 L1322.0,1318.1 L1325.0,1318.9 L1328.0,1319.8 L1331.0,1320.6 L1334.0,1321.3 L1337.0,1322.1 L1340.0,1322.8 L1343.0,1323.6 L1346.0,1324.3 L1349.0,1325.0 L1352.0,1325.7 L1355.0,1326.5 L1358.0,1327.2 L1361.0,1328.0 L1364.0,1328.7 L1367.0,1329.5 L1370.0,1330.3 L1373.0,1331.1 L1376.0,1332.0 L1379.0,1332.8 L1382.0,1333.7 L1385.0,1334.5 L1388.0,1335.4 L1391.0,1336.3 L1394.0,1337.1 L1397.0,1338.0 L1400.0,1338.9 L1403.0,1339.7 L1406.0,1340.5 L1409.0,1341.3 L1412.0,1342.1 L1415.0,1342.9 L1418.0,1343.7 L1421.0,1344.4 L1424.0,1345.1 L1427.0,1345.7 L1430.0,1346.4 L1433.0,1347.0 L1436.0,1347.6 L1439.0,1348.1 L1442.0,1348.7 L1445.0,1349.2 L1448.0,1349.8 L1451.0,1350.3 L1454.0,1350.8 L1457.0,1351.3 L1460.0,1351.8 L1463.0,1352.3 L1466.0,1352.8 L1469.0,1353.3 L1472.0,1353.8 L1475.0,1354.2 L1478.0,1354.7 L1481.0,1355.3 L1484.0,1355.8 L1487.0,1356.3 L1490.0,1356.8 L1493.0,1357.4 L1496.0,1358.0 L1499.0,1358.5 L1502.0,1359.1 L1505.0,1359.7 L1508.0,1360.3 L1511.0,1360.9 L1514.0,1361.5 L1517.0,1362.0 L1520.0,1362.6 L1523.0,1363.2 L1526.0,1363.7 L1529.0,1364.2 L1532.0,1364.7 L1535.0,1365.2 L1538.0,1365.6 L1541.0,1366.0 L1544.0,1366.4 L1547.0,1366.7 L1550.0,1367.0 L1553.0,1367.3 L1556.0,1367.7 L1559.0,1368.0 L1562.0,1368.3 L1565.0,1368.6 L1568.0,1368.9 L1571.0,1369.2 L1574.0,1369.4 L1577.0,1369.7 L1580.0,1370.0 L1583.0,1370.2 L1586.0,1370.4 L1589.0,1370.6 L1592.0,1370.8 L1595.0,1371.0 L1598.0,1371.1 L1601.0,1371.3 L1604.0,1371.4 L1607.0,1371.5 L1610.0,1371.5 L1613.0,1371.6 L1616.0,1371.7 L1619.0,1371.8 L1622.0,1371.8 L1625.0,1371.9 L1628.0,1371.9 L1631.0,1371.9 L1634.0,1372.0 L1637.0,1372.0 L1640.0,1372.0 L1643.0,1372.0 L1646.0,1372.0 L1649.0,1372.0 L1652.0,1372.0 L1655.0,1372.0 L1658.0,1372.0 L1661.0,1372.0 L1664.0,1372.0 L1667.0,1372.0 L1670.0,1372.0 L1673.0,1372.0 L1676.0,1372.0 L1679.0,1372.0 L1682.0,1372.0 L1685.0,1372.0 L1688.0,1372.0 L1691.0,1372.0 L1694.0,1372.0 L1697.0,1372.0 L1700.0,1372.0 L1703.0,1372.0 L1706.0,1372.0 L1709.0,1372.0 L1712.0,1372.0 L1715.0,1372.0 L1718.0,1372.0 L1721.0,1372.0 L1724.0,1372.0 L1727.0,1372.0 L1730.0,1372.0 L1733.0,1372.0 L1736.0,1372.0 L1739.0,1372.0 L1742.0,1372.0 L1745.0,1372.0 L1748.0,1372.0 L1751.0,1372.0 L1754.0,1372.0 L1757.0,1372.0 L1760.0,1372.0 L1763.0,1372.0 L1766.0,1372.0 L1769.0,1372.0 L1772.0,1372.0 L1775.0,1372.0 L1778.0,1372.0 L1781.0,1372.0 L1784.0,1372.0 L1787.0,1372.0 L1790.0,1372.0 L1793.0,1372.0 L1796.0,1372.0 L1799.0,1372.0 L1802.0,1372.0 L1805.0,1372.0 L1808.0,1372.0 L1811.0,1372.0 L1814.0,1372.0 L1817.0,1372.0 L1820.0,1372.0 L1823.0,1372.0 L1826.0,1372.0 L1829.0,1372.0 L1832.0,1372.0 L1835.0,1372.0 L1838.0,1372.0 L1841.0,1372.0 L1844.0,1372.0 L1847.0,1372.0 L1850.0,1372.0 L1853.0,1372.0 L1856.0,1372.0 L1859.0,1372.0 L1862.0,1372.0 L1865.0,1372.0 L1868.0,1372.0 L1871.0,1372.0 L1874.0,1372.0 L1877.0,1372.0 L1880.0,1372.0 L1883.0,1372.0 L1886.0,1372.0 L1889.0,1372.0 L1892.0,1372.0 L1895.0,1372.0 L1898.0,1372.0 L1901.0,1372.0 L1904.0,1372.0 L1907.0,1372.0 L1910.0,1372.0 L1913.0,1372.0 L1916.0,1372.0 L1919.0,1372.0 L1922.0,1372.0 L1925.0,1372.0 L1928.0,1372.0 L1931.0,1372.0 L1934.0,1372.0 L1937.0,1372.0 L1940.0,1372.0 L1943.0,1372.0 L1946.0,1372.0 L1949.0,1372.0 L1952.0,1372.0 L1955.0,1372.0 L1958.0,1372.0 L1961.0,1372.0 L1964.0,1372.0 L1967.0,1372.0 L1970.0,1372.0 L1973.0,1372.0 L1976.0,1372.0 L1979.0,1372.0 L1982.0,1372.0 L1985.0,1372.0 L1988.0,1372.0 L1991.0,1372.0 L1994.0,1372.0 L1997.0,1372.0 L2000.0,1372.0 L2003.0,1372.0 L2006.0,1372.0 L2009.0,1372.0 L2012.0,1372.0 L2015.0,1372.0 L2018.0,1372.0"/>
<polygon points="264.8,49.9 254.9,59.8 241.1,59.8 231.2,49.9 231.2,36.1 241.1,26.3 254.9,26.2 264.8,36.1" fill="#0f0"/>
<polygon points="382.7,396.5 372.9,406.4 359.0,406.4 349.2,396.5 349.2,382.7 359.0,372.9 372.9,372.9 382.7,382.7" fill="#0f0"/>
<polygon points="500.6,742.8 490.8,752.6 476.9,752.6 467.1,742.8 467.1,729.0 476.9,719.1 490.8,719.1 500.6,729.0" fill="#0f0"/>
<polygon points="618.5,894.6 608.7,904.5 594.9,904.5 585.0,894.6 585.0,880.8 594.9,871.0 608.7,871.0 618.5,880.8" fill="#0f0"/>
<polygon points="736.5,971.2 726.7,981.0 712.8,981.0 703.0,971.2 703.0,957.4 712.8,947.5 726.7,947.5 736.5,957.4" fill="#0f0"/>
<polygon points="854.4,1047.5 844.6,1057.3 830.7,1057.3 820.9,1047.5 820.9,1033.7 830.7,1023.8 844.6,1023.8 854.4,1033.7" fill="#0f0"/>
<polygon points="972.3,1118.2 962.5,1128.0 948.6,1128.0 938.8,1118.2 938.8,1104.4 948.6,1094.5 962.5,1094.5 972.3,1104.4" fill="#0f0"/>
<polygon points="1090.3,1188.7 1080.4,1198.5 1066.6,1198.5 1056.8,1188.7 1056.8,1174.9 1066.6,1165.0 1080.4,1165.0 1090.3,1174.9" fill="#0f0"/>
<polygon points="1208.2,1259.2 1198.4,1269.0 1184.5,1269.0 1174.7,1259.2 1174.7,1245.4 1184.5,1235.5 1198.4,1235.5 1208.2,1245.4" fill="#0f0"/>
<polygon points="1326.1,1320.9 1316.3,1330.8 1302.4,1330.8 1292.6,1320.9 1292.6,1307.1 1302.4,1297.2 1316.3,1297.2 1326.1,1307.1" fill="#0f0"/>
<polygon points="1444.1,1352.7 1434.2,1362.5 1420.4,1362.5 1410.6,1352.7 1410.6,1338.9 1420.4,1329.0 1434.2,1329.0 1444.1,1338.9" fill="#0f0"/>
<polygon points="1562.0,1373.4 1552.2,1383.2 1538.3,1383.2 1528.5,1373.4 1528.5,1359.6 1538.3,1349.8 1552.2,1349.8 1562.0,1359.6" fill="#0f0"/>
<polygon points="1679.9,1378.9 1670.1,1388.8 1656.2,1388.8 1646.4,1378.9 1646.4,1365.1 1656.2,1355.2 1670.1,1355.2 1679.9,1365.1" fill="#0f0"/>
<polygon points="1797.8,1378.9 1788.0,1388.8 1774.2,1388.8 1764.3,1378.9 1764.3,1365.1 1774.2,1355.2 1788.0,1355.2 1797.8,1365.1" fill="#0f0"/>
<polygon points="1915.8,1378.9 1906.0,1388.8 1892.1,1388.8 1882.3,1378.9 1882.3,1365.1 1892.1,1355.2 1906.0,1355.2 1915.8,1365.1" fill="#0f0"/>
<path class="ln" stroke="#f00" d="M248.0,43.0 L251.0,47.5 L254.0,52.2 L257.0,57.0 L260.0,62.1 L263.0,67.2 L266.0,72.5 L269.0,78.0 L272.0,83.9 L275.0,89.5 L278.0,94.7 L281.0,99.6 L284.0,104.4 L287.0,109.1 L290.0,113.7 L293.0,118.4 L296.0,122.9 L299.0,127.3 L302.0,131.6 L305.0,136.0 L308.0,140.4 L311.0,145.2 L314.0,150.3 L317.0,156.0 L320.0,162.2 L323.0,168.6 L326.0,175.0 L329.0,181.1 L332.0,186.8 L335.0,192.4 L338.0,198.0 L341.0,203.6 L344.0,209.5 L347.0,215.8 L350.0,222.1 L353.0,228.2 L356.0,234.0 L359.0,239.7 L362.0,245.3 L365.0,250.9 L368.0,256.5 L371.0,262.0 L374.0,267.5 L377.0,273.0 L380.0,278.5 L383.0,284.0 L386.0,289.7 L389.0,295.6 L392.0,301.5 L395.0,307.2 L398.0,312.6 L401.0,317.7 L404.0,322.6 L407.0,327.3 L410.0,331.8 L413.0,336.3 L416.0,340.7 L419.0,345.0 L422.0,349.3 L425.0,353.4 L428.0,357.4 L431.0,361.4 L434.0,365.4 L437.0,369.6 L440.0,373.9 L443.0,378.4 L446.0,382.9 L449.0,387.8 L452.0,393.2 L455.0,399.0 L458.0,404.6 L461.0,410.0 L464.0,415.5 L467.0,421.6 L470.0,428.3 L473.0,434.3 L476.0,439.6 L479.0,444.6 L482.0,449.7 L485.0,455.0 L488.0,460.5 L491.0,466.3 L494.0,472.1 L497.0,478.0 L500.0,483.8 L503.0,489.5 L506.0,495.0 L509.0,500.2 L512.0,505.1 L515.0,509.8 L518.0,514.4 L521.0,518.8 L524.0,523.1 L527.0,527.4 L530.0,531.6 L533.0,535.7 L536.0,539.8 L539.0,543.8 L542.0,547.7 L545.0,551.4 L548.0,555.0 L551.0,558.6 L554.0,562.2 L557.0,566.0 L560.0,569.8 L563.0,573.9 L566.0,578.2 L569.0,582.8 L572.0,587.8 L575.0,593.0 L578.0,598.4 L581.0,603.9 L584.0,609.5 L587.0,615.1 L590.0,620.6 L593.0,626.1 L596.0,631.3 L599.0,636.4 L602.0,641.1 L605.0,645.6 L608.0,649.8 L611.0,653.9 L614.0,657.9 L617.0,661.9 L620.0,665.8 L623.0,669.9 L626.0,674.1 L629.0,678.5 L632.0,683.2 L635.0,688.2 L638.0,693.3 L641.0,698.5 L644.0,703.5 L647.0,708.4 L650.0,713.3 L653.0,718.1 L656.0,722.9 L659.0,727.6 L662.0,732.2 L665.0,736.7 L668.0,741.2 L671.0,745.6 L674.0,750.0 L677.0,754.3 L680.0,758.5 L683.0,762.8 L686.0,767.0 L689.0,771.1 L692.0,775.1 L695.0,779.0 L698.0,782.9 L701.0,786.7 L704.0,790.4 L707.0,794.1 L710.0,797.7 L713.0,801.2 L716.0,804.6 L719.0,807.9 L722.0,811.1 L725.0,814.2 L728.0,817.2 L731.0,820.1 L734.0,823.0 L737.0,825.7 L740.0,828.4 L743.0,831.0 L746.0,833.5 L749.0,836.0 L752.0,838.4 L755.0,841.0 L758.0,843.6 L761.0,846.1 L764.0,848.5 L767.0,850.8 L770.0,852.8 L773.0,854.6 L776.0,856.4 L779.0,858.1 L782.0,859.8 L785.0,861.6 L788.0,863.4 L791.0,865.1 L794.0,866.9 L797.0,868.6 L800.0,870.3 L803.0,872.0 L806.0,873.7 L809.0,875.4 L812.0,877.1 L815.0,878.8 L818.0,880.5 L821.0,882.2 L824.0,883.9 L827.0,885.6 L830.0,887.3 L833.0,888.9 L836.0,890.5 L839.0,892.1 L842.0,893.7 L845.0,895.2 L848.0,896.8 L851.0,898.3 L854.0,899.8 L857.0,901.3 L860.0,902.8 L863.0,904.3 L866.0,905.8 L869.0,907.3 L872.0,908.8 L875.0,910.2 L878.0,911.7 L881.0,913.1 L884.0,914.6 L887.0,916.0 L890.0,917.4 L893.0,918.8 L896.0,920.3 L899.0,921.7 L902.0,923.1 L905.0,924.5 L908.0,925.9 L911.0,927.3 L914.0,928.7 L917.0,930.1 L920.0,931.5 L923.0,932.9 L926.0,934.3 L929.0,935.7 L932.0,937.1 L935.0,938.5 L938.0,939.9 L941.0,941.3 L944.0,942.7 L947.0,944.1 L950.0,945.5 L953.0,946.9 L956.0,948.3 L959.0,949.7 L962.0,951.1 L965.0,952.6 L968.0,954.0 L971.0,955.4 L974.0,956.9 L977.0,958.3 L980.0,959.7 L983.0,961.2 L986.0,962.6 L989.0,964.1 L992.0,965.5 L995.0,967.0 L998.0,968.4 L1001.0,969.9 L1004.0,971.3 L1007.0,972.7 L1010.0,974.2 L1013.0,975.6 L1016.0,977.0 L1019.0,978.4 L1022.0,979.8 L1025.0,981.2 L1028.0,982.6 L1031.0,984.0 L1034.0,985.4 L1037.0,986.8 L1040.0,988.1 L1043.0,989.5 L1046.0,990.8 L1049.0,992.1 L1052.0,993.5 L1055.0,994.8 L1058.0,996.1 L1061.0,997.3 L1064.0,998.6 L1067.0,999.8 L1070.0,1001.1 L1073.0,1002.3 L1076.0,1003.5 L1079.0,1004.6 L1082.0,1005.7 L1085.0,1006.8 L1088.0,1007.8 L1091.0,1008.9 L1094.0,1009.9 L1097.0,1010.9 L1100.0,1011.9 L1103.0,1013.0 L1106.0,1014.0 L1109.0,1015.1 L1112.0,1016.2 L1115.0,1017.4 L1118.0,1018.6 L1121.0,1019.9 L1124.0,1021.2 L1127.0,1022.6 L1130.0,1024.1 L1133.0,1025.6 L1136.0,1027.1 L1139.0,1028.7 L1142.0,1030.4 L1145.0,1032.0 L1148.0,1033.7 L1151.0,1035.5 L1154.0,1037.2 L1157.0,1039.0 L1160.0,1040.7 L1163.0,1042.5 L1166.0,1044.3 L1169.0,1046.0 L1172.0,1047.8 L1175.0,1049.5 L1178.0,1051.3 L1181.0,1053.0 L1184.0,1054.7 L1187.0,1056.3 L1190.0,1057.9 L1193.0,1059.5 L1196.0,1061.1 L1199.0,1062.7 L1202.0,1064.2 L1205.0,1065.8 L1208.0,1067.3 L1211.0,1068.9 L1214.0,1070.4 L1217.0,1072.0 L1220.0,1073.5 L1223.0,1075.0 L1226.0,1076.5 L1229.0,1078.1 L1232.0,1079.6 L1235.0,1081.1 L1238.0,1082.6 L1241.0,1084.1 L1244.0,1085.6 L1247.0,1087.1 L1250.0,1088.6 L1253.0,1090.1 L1256.0,1091.6 L1259.0,1093.1 L1262.0,1094.5 L1265.0,1096.0 L1268.0,1097.5 L1271.0,1099.0 L1274.0,1100.4 L1277.0,1101.9 L1280.0,1103.4 L1283.0,1104.8 L1286.0,1106.3 L1289.0,1107.7 L1292.0,1109.2 L1295.0,1110.7 L1298.0,1112.1 L1301.0,1113.6 L1304.0,1115.0 L1307.0,1116.5 L1310.0,1117.9 L1313.0,1119.3 L1316.0,1120.8 L1319.0,1122.2 L1322.0,1123.7 L1325.0,1125.1 L1328.0,1126.6 L1331.0,1128.0 L1334.0,1129.5 L1337.0,1130.9 L1340.0,1132.3 L1343.0,1133.8 L1346.0,1135.2 L1349.0,1136.6 L1352.0,1138.1 L1355.0,1139.5 L1358.0,1140.9 L1361.0,1142.3 L1364.0,1143.7 L1367.0,1145.2 L1370.0,1146.6 L1373.0,1148.0 L1376.0,1149.4 L1379.0,1150.8 L1382.0,1152.2 L1385.0,1153.6 L1388.0,1154.9 L1391.0,1156.3 L1394.0,1157.7 L1397.0,1159.1 L1400.0,1160.4 L1403.0,1161.8 L1406.0,1163.1 L1409.0,1164.5 L1412.0,1165.8 L1415.0,1167.1 L1418.0,1168.4 L1421.0,1169.8 L1424.0,1171.1 L1427.0,1172.4 L1430.0,1173.7 L1433.0,1174.9 L1436.0,1176.2 L1439.0,1177.4 L1442.0,1178.7 L1445.0,1179.9 L1448.0,1181.1 L1451.0,1182.3 L1454.0,1183.5 L1457.0,1184.7 L1460.0,1185.9 L1463.0,1187.1 L1466.0,1188.4 L1469.0,1189.6 L1472.0,1190.8 L1475.0,1192.1 L1478.0,1193.4 L1481.0,1194.7 L1484.0,1196.1 L1487.0,1197.4 L1490.0,1198.8 L1493.0,1200.1 L1496.0,1201.4 L1499.0,1202.6 L1502.0,1203.8 L1505.0,1204.8 L1508.0,1205.8 L1511.0,1206.7 L1514.0,1207.5 L1517.0,1208.3 L1520.0,1209.1 L1523.0,1209.8 L1526.0,1210.5 L1529.0,1211.3 L1532.0,1212.0 L1535.0,1212.7 L1538.0,1213.5 L1541.0,1214.3 L1544.0,1215.1 L1547.0,1216.0 L1550.0,1217.0 L1553.0,1218.0 L1556.0,1219.0 L1559.0,1220.0 L1562.0,1221.0 L1565.0,1222.1 L1568.0,1223.2 L1571.0,1224.3 L1574.0,1225.4 L1577.0,1226.6 L1580.0,1227.8 L1583.0,1228.9 L1586.0,1230.1 L1589.0,1231.3 L1592.0,1232.6 L1595.0,1233.8 L1598.0,1235.0 L1601.0,1236.3 L1604.0,1237.5 L1607.0,1238.8 L1610.0,1240.0 L1613.0,1241.3 L1616.0,1242.5 L1619.0,1243.8 L1622.0,1245.0 L1625.0,1246.3 L1628.0,1247.5 L1631.0,1248.7 L1634.0,1250.0 L1637.0,1251.2 L1640.0,1252.4 L1643.0,1253.6 L1646.0,1254.8 L1649.0,1255.9 L1652.0,1257.1 L1655.0,1258.2 L1658.0,1259.3 L1661.0,1260.4 L1664.0,1261.5 L1667.0,1262.6 L1670.0,1263.6 L1673.0,1264.7 L1676.0,1265.7 L1679.0,1266.8 L1682.0,1267.8 L1685.0,1268.9 L1688.0,1269.9 L1691.0,1271.0 L1694.0,1272.0 L1697.0,1273.1 L1700.0,1274.1 L1703.0,1275.1 L1706.0,1276.1 L1709.0,1277.1 L1712.0,1278.2 L1715.0,1279.2 L1718.0,1280.2 L1721.0,1281.2 L1724.0,1282.2 L1727.0,1283.1 L1730.0,1284.1 L1733.0,1285.1 L1736.0,1286.1 L1739.0,1287.1 L1742.0,1288.0 L1745.0,1289.0 L1748.0,1289.9 L1751.0,1290.9 L1754.0,1291.8 L1757.0,1292.7 L1760.0,1293.7 L1763.0,1294.6 L1766.0,1295.5 L1769.0,1296.4 L1772.0,1297.3 L1775.0,1298.2 L1778.0,1299.1 L1781.0,1300.0 L1784.0,1300.8 L1787.0,1301.7 L1790.0,1302.6 L1793.0,1303.5 L1796.0,1304.3 L1799.0,1305.2 L1802.0,1306.0 L1805.0,1306.9 L1808.0,1307.7 L1811.0,1308.5 L1814.0,1309.4 L1817.0,1310.2 L1820.0,1311.0 L1823.0,1311.9 L1826.0,1312.7 L1829.0,1313.5 L1832.0,1314.3 L1835.0,1315.1 L1838.0,1315.9 L1841.0,1316.7 L1844.0,1317.5 L1847.0,1318.3 L1850.0,1319.0 L1853.0,1319.8 L1856.0,1320.6 L1859.0,1321.3 L1862.0,1322.1 L1865.0,1322.9 L1868.0,1323.6 L1871.0,1324.3 L1874.0,1325.1 L1877.0,1325.8 L1880.0,1326.5 L1883.0,1327.3 L1886.0,1328.0 L1889.0,1328.7 L1892.0,1329.4 L1895.0,1330.1 L1898.0,1330.8 L1901.0,1331.5 L1904.0,1332.1 L1907.0,1332.8 L1910.0,1333.5 L1913.0,1334.2 L1916.0,1334.8 L1919.0,1335.5 L1922.0,1336.1 L1925.0,1336.8 L1928.0,1337.5 L1931.0,1338.1 L1934.0,1338.7 L1937.0,1339.4 L1940.0,1340.0 L1943.0,1340.7 L1946.0,1341.3 L1949.0,1341.9 L1952.0,1342.5 L1955.0,1343.1 L1958.0,1343.7 L1961.0,1344.4 L1964.0,1345.0 L1967.0,1345.6 L1970.0,1346.1 L1973.0,1346.7 L1976.0,1347.3 L1979.0,1347.9 L1982.0,1348.5 L1985.0,1349.0 L1988.0,1349.6 L1991.0,1350.2 L1994.0,1350.7 L1997.0,1351.3 L2000.0,1351.8 L2003.0,1352.4 L2006.0,1352.9 L2009.0,1353.4 L2012.0,1354.0 L2015.0,1354.5 L2018.0,1355.0"/>
<path d="M248.0,22.0 L264.0,43.0 L248.0,64.0 L232.0,43.0 Z" fill="none" stroke="#f00" stroke-width="12.5" stroke-linejoin="miter" stroke-miterlimit="10"/>
<path d="M365.9,231.6 L381.9,252.6 L365.9,273.6 L349.9,252.6 Z" fill="none" stroke="#f00" stroke-width="12.5" stroke-linejoin="miter" stroke-miterlimit="10"/>
<path d="M483.9,431.9 L499.9,452.9 L483.9,473.9 L467.9,452.9 Z" fill="none" stroke="#f00" stroke-width="12.5" stroke-linejoin="miter" stroke-miterlimit="10"/>
<path d="M601.8,619.8 L617.8,640.8 L601.8,661.8 L585.8,640.8 Z" fill="none" stroke="#f00" stroke-width="12.5" stroke-linejoin="miter" stroke-miterlimit="10"/>
<path d="M719.7,787.7 L735.7,808.7 L719.7,829.7 L703.7,808.7 Z" fill="none" stroke="#f00" stroke-width="12.5" stroke-linejoin="miter" stroke-miterlimit="10"/>
<path d="M837.7,870.4 L853.7,891.4 L837.7,912.4 L821.7,891.4 Z" fill="none" stroke="#f00" stroke-width="12.5" stroke-linejoin="miter" stroke-miterlimit="10"/>
<path d="M955.6,927.1 L971.6,948.1 L955.6,969.1 L939.6,948.1 Z" fill="none" stroke="#f00" stroke-width="12.5" stroke-linejoin="miter" stroke-miterlimit="10"/>
<path d="M1073.5,981.5 L1089.5,1002.5 L1073.5,1023.5 L1057.5,1002.5 Z" fill="none" stroke="#f00" stroke-width="12.5" stroke-linejoin="miter" stroke-miterlimit="10"/>
<path d="M1191.4,1037.7 L1207.4,1058.7 L1191.4,1079.7 L1175.4,1058.7 Z" fill="none" stroke="#f00" stroke-width="12.5" stroke-linejoin="miter" stroke-miterlimit="10"/>
<path d="M1309.4,1096.6 L1325.4,1117.6 L1309.4,1138.6 L1293.4,1117.6 Z" fill="none" stroke="#f00" stroke-width="12.5" stroke-linejoin="miter" stroke-miterlimit="10"/>
<path d="M1427.3,1151.5 L1443.3,1172.5 L1427.3,1193.5 L1411.3,1172.5 Z" fill="none" stroke="#f00" stroke-width="12.5" stroke-linejoin="miter" stroke-miterlimit="10"/>
<path d="M1545.2,1194.5 L1561.2,1215.5 L1545.2,1236.5 L1529.2,1215.5 Z" fill="none" stroke="#f00" stroke-width="12.5" stroke-linejoin="miter" stroke-miterlimit="10"/>
<path d="M1663.2,1240.2 L1679.2,1261.2 L1663.2,1282.2 L1647.2,1261.2 Z" fill="none" stroke="#f00" stroke-width="12.5" stroke-linejoin="miter" stroke-miterlimit="10"/>
<path d="M1781.1,1279.0 L1797.1,1300.0 L1781.1,1321.0 L1765.1,1300.0 Z" fill="none" stroke="#f00" stroke-width="12.5" stroke-linejoin="miter" stroke-miterlimit="10"/>
<path d="M1899.0,1310.0 L1915.0,1331.0 L1899.0,1352.0 L1883.0,1331.0 Z" fill="none" stroke="#f00" stroke-width="12.5" stroke-linejoin="miter" stroke-miterlimit="10"/>
</g>
<g shape-rendering="crispEdges"><rect x="888" y="97" width="1076" height="365" fill="#262626"/><rect x="892" y="100" width="1068" height="358" fill="#fff"/></g>
<g shape-rendering="crispEdges">
<path class="ln" style="stroke-width:11.8" stroke="#000" d="M906.1,149.0 H1069"/>
<circle cx="985.8" cy="147.5" r="16.1" fill="none" stroke="#000" stroke-width="12.2"/>
<path class="ln" style="stroke-width:12.0" stroke="#00f" d="M906.1,236.0 H1069"/>
<path d="M987.5,215.5 L1005.2,246.2 L969.8,246.2 Z" fill="none" stroke="#00f" stroke-width="12.5" stroke-linejoin="miter" stroke-miterlimit="10"/>
<path class="ln" style="stroke-width:11.9" stroke="#0f0" d="M906.1,322.9 H1069"/>
<polygon points="995.0,306.1 1003.1,314.2 1003.1,330.8 995.0,338.9 980.0,338.9 971.9,330.8 971.9,314.2 980.0,306.1" fill="#0f0"/>
<path class="ln" style="stroke-width:11.0" stroke="#f00" d="M906.1,409.5 H1069"/>
<path d="M987.6,388.6 L1003.6,409.6 L987.6,430.6 L971.6,409.6 Z" fill="none" stroke="#f00" stroke-width="12.5" stroke-linejoin="miter" stroke-miterlimit="10"/>
</g>
<text class="lg" transform="translate(1080,174.9) scale(1,1.02)">DEEC</text>
<text class="lg" transform="translate(1080,261.9) scale(1,1.02)">Proposed method with p=0.6</text>
<text class="lg" transform="translate(1080,348.8) scale(1,1.02)">Proposed method with p=0.4</text>
<text class="lg" transform="translate(1080,435.4) scale(1,1.02)">Proposed method with p=0.2</text>
</svg></body></html>
